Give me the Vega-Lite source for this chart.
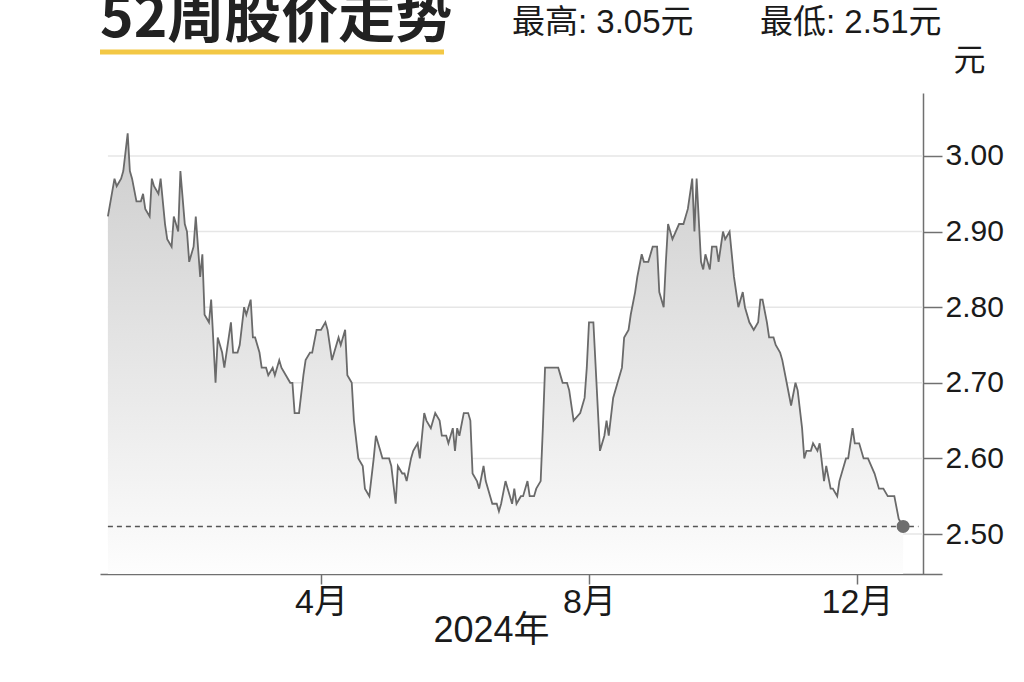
{
  "$schema": "https://vega.github.io/schema/vega-lite/v6.json",
  "width": 842,
  "height": 481,
  "autosize": {"type": "none"},
  "padding": {"left": 100, "top": 93, "right": 82, "bottom": 108},
  "background": "white",
  "config": {
    "view": {"stroke": null},
    "font": "Liberation Sans Narrow, Liberation Sans, Noto Sans CJK SC, sans-serif"
  },
  "datasets": {
    "prices": [
      {"date": "2023-12-26", "price": 2.92}, {"date": "2023-12-29", "price": 2.97}, {"date": "2023-12-30", "price": 2.96},
      {"date": "2024-01-01", "price": 2.97}, {"date": "2024-01-02", "price": 2.98}, {"date": "2024-01-04", "price": 3.03},
      {"date": "2024-01-05", "price": 2.98}, {"date": "2024-01-06", "price": 2.97}, {"date": "2024-01-08", "price": 2.94},
      {"date": "2024-01-10", "price": 2.94}, {"date": "2024-01-11", "price": 2.95}, {"date": "2024-01-12", "price": 2.93},
      {"date": "2024-01-14", "price": 2.92}, {"date": "2024-01-15", "price": 2.97}, {"date": "2024-01-16", "price": 2.96},
      {"date": "2024-01-18", "price": 2.95}, {"date": "2024-01-19", "price": 2.97}, {"date": "2024-01-21", "price": 2.91},
      {"date": "2024-01-22", "price": 2.89}, {"date": "2024-01-24", "price": 2.88}, {"date": "2024-01-25", "price": 2.92},
      {"date": "2024-01-27", "price": 2.90}, {"date": "2024-01-28", "price": 2.98}, {"date": "2024-01-30", "price": 2.91},
      {"date": "2024-01-31", "price": 2.90}, {"date": "2024-02-01", "price": 2.86}, {"date": "2024-02-03", "price": 2.88},
      {"date": "2024-02-04", "price": 2.92}, {"date": "2024-02-06", "price": 2.84}, {"date": "2024-02-07", "price": 2.87},
      {"date": "2024-02-08", "price": 2.79}, {"date": "2024-02-10", "price": 2.78}, {"date": "2024-02-11", "price": 2.81},
      {"date": "2024-02-13", "price": 2.70}, {"date": "2024-02-14", "price": 2.76}, {"date": "2024-02-16", "price": 2.74},
      {"date": "2024-02-17", "price": 2.72}, {"date": "2024-02-20", "price": 2.78}, {"date": "2024-02-21", "price": 2.74},
      {"date": "2024-02-23", "price": 2.74}, {"date": "2024-02-24", "price": 2.75}, {"date": "2024-02-26", "price": 2.80},
      {"date": "2024-02-27", "price": 2.79}, {"date": "2024-02-29", "price": 2.81}, {"date": "2024-03-01", "price": 2.76},
      {"date": "2024-03-02", "price": 2.76}, {"date": "2024-03-04", "price": 2.74}, {"date": "2024-03-05", "price": 2.72},
      {"date": "2024-03-07", "price": 2.72}, {"date": "2024-03-08", "price": 2.71}, {"date": "2024-03-10", "price": 2.72},
      {"date": "2024-03-11", "price": 2.71}, {"date": "2024-03-13", "price": 2.73}, {"date": "2024-03-14", "price": 2.72},
      {"date": "2024-03-16", "price": 2.71}, {"date": "2024-03-18", "price": 2.70}, {"date": "2024-03-19", "price": 2.70},
      {"date": "2024-03-20", "price": 2.66}, {"date": "2024-03-22", "price": 2.66}, {"date": "2024-03-24", "price": 2.71},
      {"date": "2024-03-25", "price": 2.73}, {"date": "2024-03-27", "price": 2.74}, {"date": "2024-03-28", "price": 2.74},
      {"date": "2024-03-30", "price": 2.77}, {"date": "2024-04-01", "price": 2.77}, {"date": "2024-04-03", "price": 2.78},
      {"date": "2024-04-04", "price": 2.77}, {"date": "2024-04-06", "price": 2.73}, {"date": "2024-04-07", "price": 2.74},
      {"date": "2024-04-09", "price": 2.76}, {"date": "2024-04-10", "price": 2.75}, {"date": "2024-04-12", "price": 2.77},
      {"date": "2024-04-13", "price": 2.71}, {"date": "2024-04-15", "price": 2.70}, {"date": "2024-04-16", "price": 2.65},
      {"date": "2024-04-18", "price": 2.60}, {"date": "2024-04-20", "price": 2.59}, {"date": "2024-04-21", "price": 2.56},
      {"date": "2024-04-23", "price": 2.55}, {"date": "2024-04-25", "price": 2.60}, {"date": "2024-04-26", "price": 2.63},
      {"date": "2024-04-28", "price": 2.61}, {"date": "2024-04-29", "price": 2.60}, {"date": "2024-05-02", "price": 2.60},
      {"date": "2024-05-03", "price": 2.59}, {"date": "2024-05-05", "price": 2.54}, {"date": "2024-05-06", "price": 2.59},
      {"date": "2024-05-08", "price": 2.58}, {"date": "2024-05-09", "price": 2.58}, {"date": "2024-05-10", "price": 2.57},
      {"date": "2024-05-12", "price": 2.60}, {"date": "2024-05-13", "price": 2.61}, {"date": "2024-05-15", "price": 2.62},
      {"date": "2024-05-16", "price": 2.60}, {"date": "2024-05-18", "price": 2.66}, {"date": "2024-05-19", "price": 2.65},
      {"date": "2024-05-21", "price": 2.64}, {"date": "2024-05-23", "price": 2.66}, {"date": "2024-05-25", "price": 2.65},
      {"date": "2024-05-26", "price": 2.63}, {"date": "2024-05-28", "price": 2.63}, {"date": "2024-05-29", "price": 2.62},
      {"date": "2024-05-31", "price": 2.64}, {"date": "2024-06-01", "price": 2.61}, {"date": "2024-06-02", "price": 2.64},
      {"date": "2024-06-03", "price": 2.63}, {"date": "2024-06-05", "price": 2.66}, {"date": "2024-06-07", "price": 2.66},
      {"date": "2024-06-08", "price": 2.65}, {"date": "2024-06-09", "price": 2.58}, {"date": "2024-06-11", "price": 2.57},
      {"date": "2024-06-12", "price": 2.56}, {"date": "2024-06-14", "price": 2.59}, {"date": "2024-06-15", "price": 2.57},
      {"date": "2024-06-17", "price": 2.55}, {"date": "2024-06-18", "price": 2.54}, {"date": "2024-06-20", "price": 2.54},
      {"date": "2024-06-21", "price": 2.53}, {"date": "2024-06-22", "price": 2.54}, {"date": "2024-06-24", "price": 2.57},
      {"date": "2024-06-25", "price": 2.56}, {"date": "2024-06-27", "price": 2.54}, {"date": "2024-06-28", "price": 2.56},
      {"date": "2024-06-29", "price": 2.54}, {"date": "2024-07-01", "price": 2.55}, {"date": "2024-07-02", "price": 2.55},
      {"date": "2024-07-04", "price": 2.57}, {"date": "2024-07-05", "price": 2.55}, {"date": "2024-07-07", "price": 2.55},
      {"date": "2024-07-08", "price": 2.56}, {"date": "2024-07-10", "price": 2.57}, {"date": "2024-07-11", "price": 2.64},
      {"date": "2024-07-12", "price": 2.72}, {"date": "2024-07-18", "price": 2.72}, {"date": "2024-07-20", "price": 2.70},
      {"date": "2024-07-22", "price": 2.70}, {"date": "2024-07-23", "price": 2.69}, {"date": "2024-07-25", "price": 2.65},
      {"date": "2024-07-28", "price": 2.66}, {"date": "2024-07-30", "price": 2.68}, {"date": "2024-07-31", "price": 2.72},
      {"date": "2024-08-01", "price": 2.78}, {"date": "2024-08-03", "price": 2.78}, {"date": "2024-08-06", "price": 2.61},
      {"date": "2024-08-08", "price": 2.63}, {"date": "2024-08-09", "price": 2.65}, {"date": "2024-08-10", "price": 2.63},
      {"date": "2024-08-12", "price": 2.68}, {"date": "2024-08-14", "price": 2.70}, {"date": "2024-08-16", "price": 2.72},
      {"date": "2024-08-17", "price": 2.76}, {"date": "2024-08-19", "price": 2.77}, {"date": "2024-08-20", "price": 2.79},
      {"date": "2024-08-22", "price": 2.82}, {"date": "2024-08-23", "price": 2.84}, {"date": "2024-08-25", "price": 2.87},
      {"date": "2024-08-26", "price": 2.86}, {"date": "2024-08-28", "price": 2.86}, {"date": "2024-08-30", "price": 2.88},
      {"date": "2024-09-01", "price": 2.88}, {"date": "2024-09-02", "price": 2.82}, {"date": "2024-09-04", "price": 2.80},
      {"date": "2024-09-05", "price": 2.86}, {"date": "2024-09-06", "price": 2.91}, {"date": "2024-09-08", "price": 2.89},
      {"date": "2024-09-11", "price": 2.91}, {"date": "2024-09-13", "price": 2.91}, {"date": "2024-09-15", "price": 2.93},
      {"date": "2024-09-17", "price": 2.97}, {"date": "2024-09-18", "price": 2.90}, {"date": "2024-09-19", "price": 2.97},
      {"date": "2024-09-21", "price": 2.86}, {"date": "2024-09-22", "price": 2.85}, {"date": "2024-09-23", "price": 2.87},
      {"date": "2024-09-25", "price": 2.85}, {"date": "2024-09-26", "price": 2.88}, {"date": "2024-09-28", "price": 2.88},
      {"date": "2024-09-29", "price": 2.86}, {"date": "2024-10-01", "price": 2.90}, {"date": "2024-10-02", "price": 2.89},
      {"date": "2024-10-04", "price": 2.90}, {"date": "2024-10-06", "price": 2.84}, {"date": "2024-10-08", "price": 2.80},
      {"date": "2024-10-10", "price": 2.82}, {"date": "2024-10-11", "price": 2.80}, {"date": "2024-10-13", "price": 2.78},
      {"date": "2024-10-15", "price": 2.77}, {"date": "2024-10-17", "price": 2.78}, {"date": "2024-10-18", "price": 2.81},
      {"date": "2024-10-19", "price": 2.81}, {"date": "2024-10-21", "price": 2.78}, {"date": "2024-10-22", "price": 2.76},
      {"date": "2024-10-24", "price": 2.76}, {"date": "2024-10-25", "price": 2.75}, {"date": "2024-10-27", "price": 2.74},
      {"date": "2024-10-28", "price": 2.73}, {"date": "2024-10-30", "price": 2.70}, {"date": "2024-11-01", "price": 2.67},
      {"date": "2024-11-03", "price": 2.70}, {"date": "2024-11-04", "price": 2.69}, {"date": "2024-11-06", "price": 2.64},
      {"date": "2024-11-07", "price": 2.60}, {"date": "2024-11-08", "price": 2.61}, {"date": "2024-11-10", "price": 2.61},
      {"date": "2024-11-11", "price": 2.62}, {"date": "2024-11-13", "price": 2.61}, {"date": "2024-11-14", "price": 2.62},
      {"date": "2024-11-16", "price": 2.57}, {"date": "2024-11-17", "price": 2.59}, {"date": "2024-11-19", "price": 2.56},
      {"date": "2024-11-20", "price": 2.56}, {"date": "2024-11-22", "price": 2.55}, {"date": "2024-11-23", "price": 2.57},
      {"date": "2024-11-25", "price": 2.59}, {"date": "2024-11-26", "price": 2.60}, {"date": "2024-11-27", "price": 2.60},
      {"date": "2024-11-29", "price": 2.64}, {"date": "2024-11-30", "price": 2.62}, {"date": "2024-12-02", "price": 2.62},
      {"date": "2024-12-04", "price": 2.60}, {"date": "2024-12-06", "price": 2.60}, {"date": "2024-12-09", "price": 2.58},
      {"date": "2024-12-11", "price": 2.56}, {"date": "2024-12-13", "price": 2.56}, {"date": "2024-12-15", "price": 2.55},
      {"date": "2024-12-18", "price": 2.55}, {"date": "2024-12-20", "price": 2.52}, {"date": "2024-12-22", "price": 2.51}
    ],
    "grid": [{"v": 2.5}, {"v": 2.6}, {"v": 2.7}, {"v": 2.8}, {"v": 2.9}, {"v": 3.0}]
  },
  "layer": [
    {
      "data": {"name": "grid"},
      "mark": {"type": "rule", "color": "#e6e6e6", "strokeWidth": 1.5},
      "encoding": {
        "x": {"datum": {"year": 2023, "month": 12, "date": 26, "utc": true}, "type": "temporal",
              "scale": {"domain": [{"year": 2023, "month": 12, "date": 22, "hours": 9, "minutes": 36, "utc": true}, {"year": 2025, "month": 1, "date": 8, "hours": 16, "minutes": 48, "utc": true}]},
              "axis": {
                "values": [{"year": 2024, "month": 4, "date": 1, "utc": true}, {"year": 2024, "month": 8, "date": 1, "utc": true}, {"year": 2024, "month": 12, "date": 1, "utc": true}],
                "labelExpr": "(utcmonth(datum.value)+1) + '月'",
                "grid": false,
                "domainColor": "#707070", "domainWidth": 1.5,
                "tickColor": "#707070", "tickWidth": 1.5, "tickSize": 10,
                "labelFontSize": 34, "labelColor": "#1a1a1a", "labelPadding": 1,
                "labelFont": "Liberation Sans Narrow, Liberation Sans, Noto Sans CJK SC, sans-serif",
                "title": "2024年", "titleFontSize": 36, "titleFontWeight": "normal", "titleColor": "#1a1a1a",
                "titleFont": "Liberation Sans Narrow, Liberation Sans, Noto Sans CJK SC, sans-serif",
                "titleX": 391, "titleY": 67, "titleAlign": "center", "titleBaseline": "alphabetic", "titleAnchor": null
              }},
        "x2": {"datum": {"year": 2024, "month": 12, "date": 31, "utc": true}},
        "y": {"field": "v", "type": "quantitative",
              "scale": {"domain": [2.4471, 3.0833], "zero": false, "nice": false},
              "axis": {
                "orient": "right", "offset": -19,
                "values": [2.5, 2.6, 2.7, 2.8, 2.9, 3.0], "format": ".2f",
                "grid": false,
                "domainColor": "#707070", "domainWidth": 1.5,
                "tickColor": "#707070", "tickWidth": 1.5, "tickSize": 19,
                "labelFontSize": 30, "labelColor": "#1a1a1a", "labelPadding": 3,
                "labelFont": "Liberation Sans Narrow, Liberation Sans, Noto Sans CJK SC, sans-serif",
                "title": "元", "titleAngle": 0, "titleFontSize": 32, "titleFontWeight": "normal", "titleColor": "#1a1a1a",
                "titleFont": "Noto Sans CJK SC, sans-serif",
                "titleX": 30, "titleY": -23, "titleAlign": "left", "titleBaseline": "alphabetic", "titleAnchor": null
              }}
      }
    },
    {
      "data": {"name": "prices"},
      "mark": {
        "type": "area",
        "color": {"gradient": "linear", "x1": 0, "y1": 0, "x2": 0, "y2": 1,
                  "stops": [{"offset": 0, "color": "#cdcdcd"}, {"offset": 0.5, "color": "#e5e5e5"}, {"offset": 1, "color": "#fdfdfd"}]}
      },
      "encoding": {
        "x": {"field": "date", "type": "temporal"},
        "y": {"field": "price", "type": "quantitative"},
        "y2": {"datum": 2.4471}
      }
    },
    {
      "data": {"name": "prices"},
      "mark": {"type": "line", "color": "#6a6a6a", "strokeWidth": 1.8},
      "encoding": {
        "x": {"field": "date", "type": "temporal"},
        "y": {"field": "price", "type": "quantitative"}
      }
    },
    {
      "data": {"values": [{}]},
      "mark": {"type": "rule", "color": "#555555", "strokeWidth": 1.5, "strokeDash": [5, 4]},
      "encoding": {
        "x": {"datum": {"year": 2023, "month": 12, "date": 26, "utc": true}, "type": "temporal"},
        "x2": {"datum": {"year": 2024, "month": 12, "date": 29, "utc": true}},
        "y": {"datum": 2.51, "type": "quantitative"}
      }
    },
    {
      "data": {"name": "prices"},
      "mark": {"type": "point", "filled": true, "color": "#6e6e6e", "size": 170, "opacity": 1},
      "encoding": {
        "x": {"aggregate": "max", "field": "date", "type": "temporal"},
        "y": {"aggregate": {"argmax": "date"}, "field": "price", "type": "quantitative"}
      }
    },
    {
      "data": {"values": [{"label": "52周股价走势"}]},
      "mark": {"type": "text", "align": "left", "baseline": "alphabetic", "fontSize": 57, "fontWeight": "bold", "font": "Noto Sans CJK SC, sans-serif", "color": "#222222"},
      "encoding": {
        "x": {"datum": {"year": 2023, "month": 12, "date": 22, "hours": 9, "minutes": 36, "utc": true}, "type": "temporal"},
        "y": {"datum": 3.157, "type": "quantitative"},
        "text": {"field": "label"}
      }
    },
    {
      "data": {"values": [{}]},
      "mark": {"type": "rule", "color": "#f3c845", "strokeWidth": 5, "strokeCap": "butt"},
      "encoding": {
        "x": {"datum": {"year": 2023, "month": 12, "date": 22, "hours": 9, "minutes": 36, "utc": true}, "type": "temporal"},
        "x2": {"datum": {"year": 2024, "month": 5, "date": 27, "hours": 0, "utc": true}},
        "y": {"datum": 3.1376, "type": "quantitative"}
      }
    },
    {
      "data": {"values": [{"label": "最高: 3.05元"}]},
      "mark": {"type": "text", "align": "left", "baseline": "alphabetic", "fontSize": 33, "font": "Liberation Sans Narrow, Liberation Sans, Noto Sans CJK SC, sans-serif", "color": "#1a1a1a"},
      "encoding": {
        "x": {"datum": {"year": 2024, "month": 6, "date": 26, "hours": 23, "utc": true}, "type": "temporal"},
        "y": {"datum": 3.162, "type": "quantitative"},
        "text": {"field": "label"}
      }
    },
    {
      "data": {"values": [{"label": "最低: 2.51元"}]},
      "mark": {"type": "text", "align": "left", "baseline": "alphabetic", "fontSize": 33, "font": "Liberation Sans Narrow, Liberation Sans, Noto Sans CJK SC, sans-serif", "color": "#1a1a1a"},
      "encoding": {
        "x": {"datum": {"year": 2024, "month": 10, "date": 17, "hours": 20, "utc": true}, "type": "temporal"},
        "y": {"datum": 3.162, "type": "quantitative"},
        "text": {"field": "label"}
      }
    }
  ]
}
